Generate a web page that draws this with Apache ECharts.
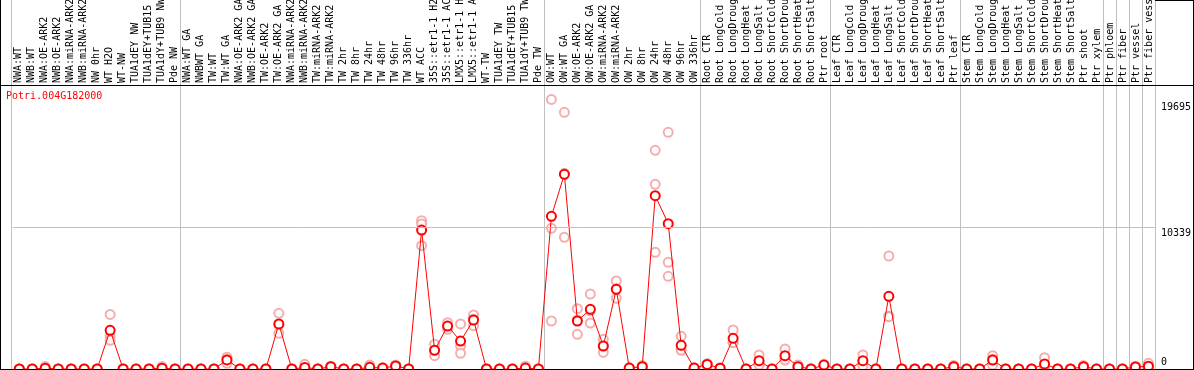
<!DOCTYPE html>
<html><head><meta charset="utf-8">
<script src="https://cdn.jsdelivr.net/npm/echarts@6/dist/echarts.min.js"></script>
<style>html,body{margin:0;padding:0;background:#fff}#c{width:1194px;height:370px}</style>
</head><body><div id="c"></div>
<script>
const categories = ['NWA:WT','NWB:WT','NWA:OE-ARK2','NWB:OE-ARK2','NWA:miRNA-ARK2','NWB:miRNA-ARK2','NW 0hr','WT H2O','WT-NW','TUA1dEY NW','TUA1dEY+TUB15','TUA1dY+TUB9 NW','Pde NW',
'NWA:WT GA','NWBWT GA','TW:WT','TW:WT GA','NWA:OE-ARK2 GA','NWB:OE-ARK2 GA','TW:OE-ARK2','TW:OE-ARK2 GA','NWA:miRNA-ARK2','NWB:miRNA-ARK2','TW:miRNA-ARK2','TW:miRNA-ARK2','TW 2hr','TW 8hr','TW 24hr','TW 48hr','TW 96hr','TW 336hr','WT ACC','35S::etr1-1 H2','35S::etr1-1 AC','LMX5::etr1-1 H','LMX5::etr1-1 A','WT-TW','TUA1dEY TW','TUA1dEY+TUB15','TUA1dY+TUB9 TW','Pde TW',
'OW:WT','OW:WT GA','OW:OE-ARK2','OW:OE-ARK2 GA','OW:miRNA-ARK2','OW:miRNA-ARK2','OW 2hr','OW 8hr','OW 24hr','OW 48hr','OW 96hr','OW 336hr',
'Root CTR','Root LongCold','Root LongDroug','Root LongHeat','Root LongSalt','Root ShortCold','Root ShortDrou','Root ShortHeat','Root ShortSalt','Ptr root',
'Leaf CTR','Leaf LongCold','Leaf LongDroug','Leaf LongHeat','Leaf LongSalt','Leaf ShortCold','Leaf ShortDrou','Leaf ShortHeat','Leaf ShortSalt','Ptr leaf',
'Stem CTR','Stem LongCold','Stem LongDroug','Stem LongHeat','Stem LongSalt','Stem ShortCold','Stem ShortDrou','Stem ShortHeat','Stem ShortSalt','Ptr shoot',
'Ptr xylem','Ptr phloem','Ptr fiber','Ptr vessel','Ptr fiber vess'];

const meanValues = [0,0,60,0,0,0,0,2830,0,0,0,60,0,
0,0,0,660,0,0,0,3290,0,110,0,170,0,0,120,70,220,0,10150,1370,3140,2040,3580,0,0,0,70,0,
11160,14227,3507,4362,1680,5824,70,170,12668,10622,1732,70,
330,60,2243,0,607,0,972,170,0,290,
0,0,607,0,5312,0,0,0,0,170,
0,0,658,0,0,0,365,0,0,170,
0,0,0,150,200];

const rep1 = [0,0,180,0,0,0,0,3990,0,0,0,180,0,
0,0,0,860,0,0,0,4070,0,340,0,200,0,0,290,100,300,0,10840,1800,3385,3290,3946,0,0,0,210,0,
19695,18757,4406,5480,2170,6430,100,250,15980,17296,2389,100,
400,100,2850,0,1023,0,1461,300,0,350,
0,0,1023,0,8257,0,0,0,0,250,
0,0,972,0,0,0,826,0,0,250,
0,0,0,200,416];

const rep2 = [0,0,0,0,0,0,0,2400,0,0,0,0,0,
0,0,0,700,0,0,0,3190,0,0,0,170,0,0,70,70,220,0,10600,1340,3140,1680,3630,0,0,0,0,0,
10281,14300,3580,4245,1650,5876,70,170,13496,7797,1440,70,
330,60,1957,0,506,0,797,150,0,290,
0,0,555,0,3857,0,0,0,0,170,
0,0,710,0,0,0,270,0,0,170,
0,0,0,150,150];

const rep3 = [0,0,0,0,0,0,0,2100,0,0,0,0,0,
0,0,0,420,0,0,0,2610,0,0,0,140,0,0,0,40,140,0,9010,970,2898,1150,3166,0,0,0,0,0,
3507,9623,2535,3361,1220,5166,40,90,8527,6774,1367,40,
260,20,1922,0,292,0,658,60,0,230,
0,0,243,0,3822,0,0,0,0,90,
0,0,292,0,0,0,0,0,0,90,
0,0,0,100,34];

const yTickValues = [0, 10339, 19695];
const midLineValue = 10339;
const groupBoundaries = [0, 13, 41, 53, 63, 73, 84, 85, 86, 87];
const geneId = 'Potri.004G182000';
const yMax = 19695 * 1.05;

const mono = 'DejaVu Sans Mono';
const replicateData = [];
categories.forEach((c, i) => {
  [rep1, rep2, rep3].forEach(r => replicateData.push([i, r[i]]));
});

const chart = echarts.init(document.getElementById('c'), null, {renderer: 'canvas'});
chart.setOption({
  animation: false,
  backgroundColor: '#fff',
  title: {text: geneId, left: 6, top: 91, padding: 0,
    textStyle: {color: '#ff0000', fontFamily: mono, fontSize: 10, fontWeight: 'normal'}},
  grid: [
    {left: 11, top: 0, width: 1144, height: 369},
    {left: 12, top: 0, width: 1144, height: 86},
    {left: 12.8, top: 86, width: 1144, height: 283}
  ],
  xAxis: [
    {gridIndex: 0, type: 'category', data: categories, boundaryGap: true,
      axisLine: {show: false}, axisTick: {show: false}, axisLabel: {show: false},
      splitLine: {show: true, interval: (i) => groupBoundaries.indexOf(i) >= 0,
        lineStyle: {color: '#c0c0c0', width: 1}}},
    {gridIndex: 1, type: 'category', data: categories, boundaryGap: true, position: 'bottom',
      axisLine: {show: false}, axisTick: {show: false}, splitLine: {show: false},
      axisLabel: {show: true, inside: true, rotate: 90, interval: 0, margin: 3,
        fontFamily: mono, fontSize: 10, color: '#000'}},
    {gridIndex: 2, type: 'category', data: categories, boundaryGap: true,
      axisLine: {show: false}, axisTick: {show: false}, axisLabel: {show: false}, splitLine: {show: false}}
  ],
  yAxis: [
    {gridIndex: 0, type: 'value', show: false},
    {gridIndex: 1, type: 'value', show: false},
    {gridIndex: 2, type: 'value', position: 'right', min: 0, max: yMax,
      axisLine: {show: false}, axisTick: {show: false}, splitLine: {show: false},
      axisLabel: {show: true, customValues: yTickValues, margin: 6, color: '#000',
        fontFamily: mono, fontSize: 10,
        formatter: v => v === 0 ? '{z|0}' : (v > 15000 ? '{a|' + v + '}' : '{n|' + v + '}'),
        rich: {
          z: {padding: [0, 0, 14, 0], fontFamily: mono, fontSize: 10, color: '#000'},
          n: {padding: [11, 0, 0, 0], fontFamily: mono, fontSize: 10, color: '#000'},
          a: {padding: [15, 0, 0, 0], fontFamily: mono, fontSize: 10, color: '#000'}
        }}}
  ],
  series: [
    {type: 'scatter', name: 'replicates', xAxisIndex: 2, yAxisIndex: 2, data: replicateData,
      symbol: 'emptyCircle', symbolSize: 9, z: 2,
      itemStyle: {color: '#f09a9a', borderColor: '#f09a9a', borderWidth: 1},
      markLine: {silent: true, symbol: 'none', label: {show: false},
        lineStyle: {color: '#c0c0c0', width: 1, type: 'solid'},
        data: [{yAxis: midLineValue}]}},
    {type: 'line', name: 'mean', xAxisIndex: 2, yAxisIndex: 2, data: meanValues,
      symbol: 'emptyCircle', symbolSize: 9, showSymbol: true, showAllSymbol: true, z: 3,
      itemStyle: {color: '#ff0000', borderColor: '#ff0000', borderWidth: 1.5},
      lineStyle: {color: '#ff0000', width: 1}}
  ],
  graphic: [
    {type: 'line', shape: {x1: 0, y1: 85.5, x2: 1194, y2: 85.5}, style: {stroke: '#000', lineWidth: 1}, z: 10},
    {type: 'line', shape: {x1: 0.5, y1: 0, x2: 0.5, y2: 370}, style: {stroke: '#000', lineWidth: 1}, z: 10},
    {type: 'line', shape: {x1: 1193.5, y1: 0, x2: 1193.5, y2: 370}, style: {stroke: '#000', lineWidth: 1}, z: 10},
    {type: 'line', shape: {x1: 0, y1: 369.5, x2: 1194, y2: 369.5}, style: {stroke: '#000', lineWidth: 1}, z: 10},
    {type: 'line', shape: {x1: 1155, y1: 0.5, x2: 1194, y2: 0.5}, style: {stroke: '#000', lineWidth: 1}, z: 10}
  ]
});
</script></body></html>
